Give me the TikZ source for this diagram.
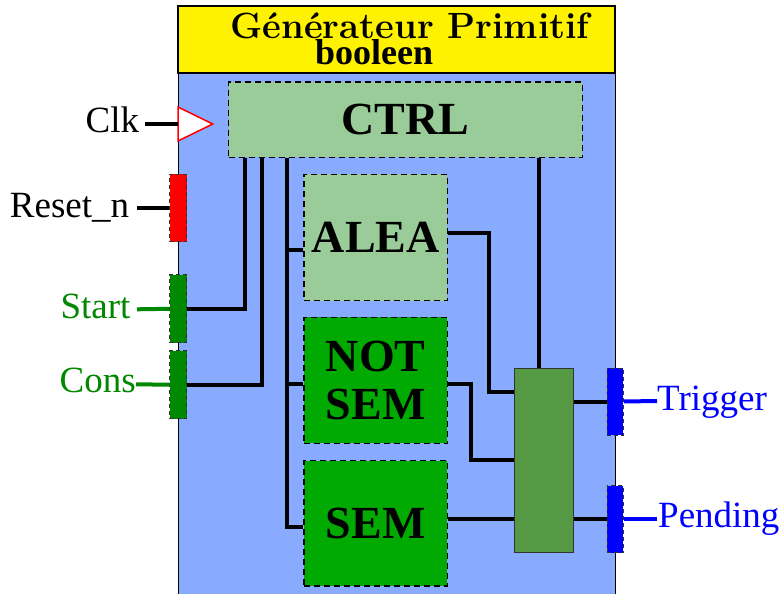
\documentclass[tikz,border=0pt]{standalone}
\usepackage{fontspec}
\newfontfamily\tms{Liberation Serif}
\usetikzlibrary{calc}
\definecolor{bodyblue}{HTML}{88AAFF}
\definecolor{lightgrn}{HTML}{99CC99}
\definecolor{darkgrn}{HTML}{00AA00}
\definecolor{muxgrn}{HTML}{559944}
\definecolor{portgrn}{HTML}{008800}
\definecolor{portgray}{HTML}{333333}
\begin{document}
\begin{tikzpicture}[x=1pt,y=-1pt,
  blk/.style={draw=black,dash pattern=on 6pt off 4pt,line width=1.5pt,inner sep=0pt,
    font=\tms\bfseries\fontsize{46}{48}\selectfont,align=center},
  port/.style={draw=portgray,dash pattern=on 4pt off 3pt,line width=1pt,
    minimum width=16.7pt,minimum height=67.7pt,inner sep=0pt},
  wire/.style={line width=4pt},
  lbl/.style={font=\tms\fontsize{37}{40}\selectfont,inner sep=0pt}]
\useasboundingbox (0,0) rectangle (779,594);
% frame
\node[draw=black,line width=1pt,fill=bodyblue,minimum width=437pt,minimum height=530pt,inner sep=0pt] (body) at (396.5,338) {};
\node[draw=black,line width=1.5pt,fill=yellow,minimum width=437pt,minimum height=67pt,inner sep=0pt] (title) at (396.5,39.5) {};
\node[anchor=base west,inner sep=0pt,font=\bfseries\fontsize{36.5}{38}\selectfont] (t1) at (230,38.8) {Générateur Primitif};
\node[anchor=base west,inner sep=0pt,font=\tms\bfseries\fontsize{36}{38}\selectfont] (t2) at (315,65) {booleen};
% blocks
\node[blk,fill=lightgrn,minimum width=353.6pt,minimum height=75.3pt] (ctrl) at (405.5,119.7) {CTRL};
\node[blk,fill=lightgrn,minimum width=143.3pt,minimum height=126.4pt] (alea) at (375.7,237.5) {ALEA};
\node[blk,fill=darkgrn,minimum width=143.3pt,minimum height=126pt] (notsem) at (375.7,380.3) {NOT\\SEM};
\node[blk,fill=darkgrn,minimum width=143.3pt,minimum height=125.3pt] (sem) at (375.7,523.3) {SEM};
% ports
\node[port,fill=red] (rst) at (178.3,208) {};
\node[port,fill=portgrn] (sp) at (178.3,308.8) {};
\node[port,fill=portgrn] (cp) at (178.3,384.7) {};
% clock
\coordinate (clkin) at (178,124);
\draw[red,fill=white,line width=1.5pt] (clkin) ++(0,-17) -- ++(34.7,17) -- ++(-34.7,17) -- cycle;
% labels
\node[lbl,anchor=base east] (clkl) at (139.3,132.7) {Clk};
\node[lbl,anchor=base east] (rstl) at (129.3,217) {Reset\_n};
\node[lbl,anchor=base east,text=portgrn] (spl) at (130.7,318) {Start};
\node[lbl,anchor=base east,text=portgrn] (cpl) at (136,392.7) {Cons};
\node[lbl,anchor=base west,text=blue] (tpl) at (657,410) {Trigger};
\node[lbl,anchor=base west,text=blue] (ppl) at (658,527.7) {Pending};
% external wires
\draw[wire] ($(clkl.base east)+(5.7,-8.7)$) -- (clkin);
\draw[wire] ($(rstl.base east)+(7.7,-9)$) -- (rst.west);
\draw[wire,portgrn] ($(spl.base east)+(6.3,-8.7)$) -- (sp.west);
\draw[wire,portgrn] ($(cpl.base east)+(0,-8.4)$) -- (cp.west);
% internal wires
\draw[wire] (sp.east) -| ($(ctrl.south west)+(16.6,0)$);
\draw[wire] (cp.east) -| ($(ctrl.south west)+(33.6,0)$);
\coordinate (bus) at ($(ctrl.south west)+(58.6,0)$);
\coordinate (aleain) at ($(alea.west)+(0,12.5)$);
\coordinate (nsin) at ($(notsem.west)+(0,4)$);
\coordinate (semin) at ($(sem.west)+(0,3.4)$);
\draw[wire] (bus) |- (semin);
\draw[wire] (bus |- aleain) -- (aleain);
\draw[wire] (bus |- nsin) -- (nsin);
% mux
\node[draw=portgray,line width=1pt,fill=muxgrn,minimum width=59pt,minimum height=184.3pt,inner sep=0pt] (mux) at (543.8,460.2) {};
\node[port,fill=blue,minimum width=16pt,minimum height=67pt] (tp) at (615.3,401.5) {};
\node[port,fill=blue,minimum width=16pt,minimum height=67pt] (pp) at (615.3,519) {};
\coordinate (aleaout) at ($(alea.east)+(0,-4.2)$);
\coordinate (m1) at ($(mux.north west)+(0,24.7)$);
\draw[wire] (aleaout) -| ($(m1)+(-25,0)$) -- (m1);
\coordinate (nsout) at ($(notsem.east)+(0,3.7)$);
\coordinate (m2) at ($(mux.north west)+(0,92.7)$);
\draw[wire] (nsout) -| ($(m2)+(-42.6,0)$) -- (m2);
\coordinate (semout) at ($(sem.east)+(0,-4.3)$);
\draw[wire] (semout) -- (semout -| mux.west);
\coordinate (ctrlm) at ($(ctrl.south west)+(310.6,0)$);
\draw[wire] (ctrlm) -- (ctrlm |- mux.north);
\draw[wire] (mux.east |- tp.west) -- (tp.west);
\draw[wire] (mux.east |- pp.west) -- (pp.west);
\draw[wire,blue] (tp.east) -- ($(tpl.base west)+(0,-9)$);
\draw[wire,blue] (pp.east) -- ($(ppl.base west)+(-1,-8.7)$);
\end{tikzpicture}
\end{document}
